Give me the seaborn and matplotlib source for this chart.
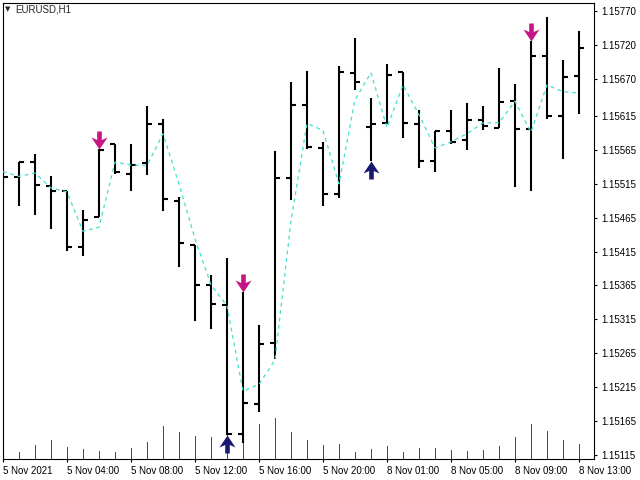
import numpy as np
import pandas as pd
import seaborn as sns
import matplotlib.pyplot as plt
from matplotlib.path import Path

# EURUSD H1 bars
opens = [1.15528, 1.15525, 1.15547, 1.15512, 1.15505, 1.15422, 1.15466, 1.15574, 1.15530, 1.15546,
         1.15603, 1.15489, 1.15424, 1.15366, 1.15336, 1.15146, 1.15190, 1.15280, 1.15523, 1.15632,
         1.15568, 1.15500, 1.15679, 1.15599, 1.15605, 1.15680, 1.15603, 1.15549, 1.15593, 1.15579,
         1.15609, 1.15598, 1.15637, 1.15596, 1.15703, 1.15615, 1.15674]
highs = [1.15539, 1.15547, 1.15559, 1.15527, 1.15505, 1.15477, 1.15566, 1.15574, 1.15574, 1.15630,
         1.15611, 1.15496, 1.15424, 1.15381, 1.15405, 1.15356, 1.15306, 1.15563, 1.15665, 1.15681,
         1.15577, 1.15689, 1.15730, 1.15642, 1.15692, 1.15680, 1.15624, 1.15593, 1.15624, 1.15634,
         1.15630, 1.15686, 1.15662, 1.15726, 1.15761, 1.15698, 1.15741]
lows = [1.15513, 1.15483, 1.15469, 1.15449, 1.15416, 1.15409, 1.15466, 1.15530, 1.15505, 1.15528,
        1.15475, 1.15392, 1.15312, 1.15301, 1.15145, 1.15133, 1.15179, 1.15257, 1.15491, 1.15566,
        1.15482, 1.15494, 1.15653, 1.15548, 1.15604, 1.15582, 1.15538, 1.15532, 1.15574, 1.15565,
        1.15595, 1.15598, 1.15511, 1.15504, 1.15610, 1.15552, 1.15618]
closes = [1.15525, 1.15547, 1.15514, 1.15505, 1.15422, 1.15462, 1.15565, 1.15532, 1.15543, 1.15603,
          1.15493, 1.15427, 1.15366, 1.15337, 1.15146, 1.15191, 1.15278, 1.15523, 1.15632, 1.15569,
          1.15500, 1.15680, 1.15666, 1.15603, 1.15676, 1.15605, 1.15549, 1.15593, 1.15577, 1.15609,
          1.15600, 1.15636, 1.15596, 1.15703, 1.15615, 1.15672, 1.15716]
ma = [1.15533, 1.15526, 1.15531, 1.15509, 1.15503, 1.15445, 1.15451, 1.15547, 1.15543, 1.15542,
      1.15589, 1.15515, 1.15434, 1.15366, 1.15335, 1.15209, 1.15219, 1.15255, 1.15460, 1.15604,
      1.15594, 1.15515, 1.15639, 1.15679, 1.15598, 1.15661, 1.15617, 1.15568, 1.15577, 1.15589,
      1.15605, 1.15605, 1.15637, 1.15591, 1.15661, 1.15651, 1.15649]
volumes = [5, 7, 14, 19, 12, 10, 8, 7, 11, 17, 33, 27, 23, 22, 57, 55, 35, 41, 27, 19,
           14, 15, 7, 10, 13, 7, 11, 11, 9, 8, 9, 13, 22, 35, 28, 19, 15]

sell_bars = [6, 15, 33]
buy_bars = [14, 23]

time_ticks = [0, 4, 8, 12, 16, 20, 24, 28, 32, 36]
time_labels = ['5 Nov 2021', '5 Nov 04:00', '5 Nov 08:00', '5 Nov 12:00', '5 Nov 16:00',
               '5 Nov 20:00', '8 Nov 01:00', '8 Nov 05:00', '8 Nov 09:00', '8 Nov 13:00']
price_ticks = [1.15115, 1.15165, 1.15215, 1.15265, 1.15315, 1.15365, 1.15415, 1.15465,
               1.15515, 1.15565, 1.15615, 1.15670, 1.15720, 1.15770]

df = pd.DataFrame({'bar': np.arange(len(opens)), 'open': opens, 'high': highs,
                   'low': lows, 'close': closes, 'ma': ma, 'volume': volumes})

sns.set_style('ticks')
plt.rcParams['font.family'] = ['Liberation Sans', 'DejaVu Sans']
plt.rcParams['font.size'] = 7

fig = plt.figure(figsize=(6.4, 4.8), dpi=100)
ax = fig.add_axes([2.5 / 640, 21 / 480, 591.5 / 640, 456 / 480])

# tick volumes in the bottom of the window
axv = ax.twinx()
axv.vlines(df['bar'], 0, df['volume'], color='#008000', lw=0.5, antialiased=False)
axv.set_ylim(0, 456)
axv.set_yticks([])
for s in axv.spines.values():
    s.set_visible(False)
ax.set_zorder(2)
ax.patch.set_visible(False)

# OHLC bars
ax.vlines(df['bar'], df['low'], df['high'], color='black', lw=1.5)
ax.hlines(df['open'], df['bar'] - 0.33, df['bar'], color='black', lw=1.5)
ax.hlines(df['close'], df['bar'], df['bar'] + 0.33, color='black', lw=1.5)

sns.lineplot(data=df, x='bar', y='ma', ax=ax, color='#40E0D0', lw=0.9,
             linestyle=(0, (3, 3)), zorder=3)

# signal arrows, tip at the origin of the marker path
dn = [(-2.3, 18), (2.3, 18), (2.3, 9.5), (8, 12), (0, 0), (-8, 12), (-2.3, 9.5), (-2.3, 18)]
up = [(x, -y) for x, y in dn]
arrow_dn = Path(dn, closed=True)
arrow_up = Path(up, closed=True)
sell = df.loc[sell_bars]
buy = df.loc[buy_bars]
ax.scatter(sell['bar'], sell['high'], marker=arrow_dn, s=672, color='#C71585',
           linewidths=0, zorder=5)
ax.scatter(buy['bar'], buy['low'], marker=arrow_up, s=672, color='#191970',
           linewidths=0, zorder=5)

ax.set_xlim(-0.03, -0.03 + 591.5 / 16)
ax.set_ylim(1.151089, 1.157819)
ax.set_xticks(time_ticks, time_labels)
for lab in ax.get_xticklabels():
    lab.set_ha('left')
ax.set_yticks(price_ticks, [f'{p:.5f}' for p in price_ticks])
ax.yaxis.tick_right()
ax.tick_params(axis='both', length=2.5, width=0.8, pad=2.5, labelsize=7, colors='black')
ax.set_xlabel('')
ax.set_ylabel('')
for s in ax.spines.values():
    s.set_visible(True)
    s.set_color('black')
    s.set_linewidth(0.8)

fig.text(5 / 640, 1 - 9 / 480, '\u25bc', fontsize=5, family='DejaVu Sans', va='center')
fig.text(15 / 640, 1 - 9.5 / 480, 'EURUSD,H1', fontsize=7, va='center')

fig.savefig('out.png', dpi=100)
